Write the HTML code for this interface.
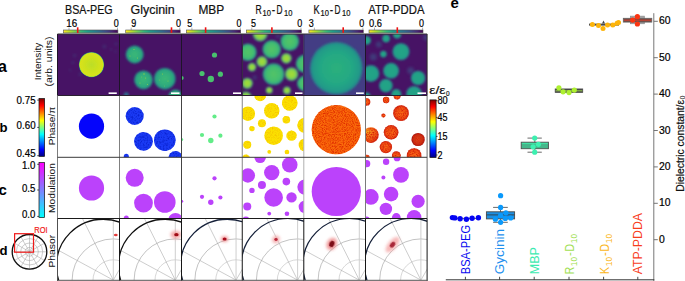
<!DOCTYPE html>
<html><head><meta charset="utf-8"><title>figure</title>
<style>
html,body{margin:0;padding:0;background:#fff;width:685px;height:281px;overflow:hidden}
svg{display:block}
text{font-family:"Liberation Sans", sans-serif}
text.s{stroke-width:0.22px}
</style></head><body>
<svg width="685" height="281" viewBox="0 0 685 281" font-family="&quot;Liberation Sans&quot;, sans-serif">
<rect x="0" y="0" width="685" height="281" fill="#fff"/>
<defs>
<linearGradient id="vir" x1="1" y1="0" x2="0" y2="0">
<stop offset="0" stop-color="#440154"/>
<stop offset="0.11" stop-color="#482878"/>
<stop offset="0.22" stop-color="#3e4a89"/>
<stop offset="0.33" stop-color="#31688e"/>
<stop offset="0.44" stop-color="#26828e"/>
<stop offset="0.56" stop-color="#1f9e89"/>
<stop offset="0.67" stop-color="#35b779"/>
<stop offset="0.78" stop-color="#6ece58"/>
<stop offset="0.89" stop-color="#b5de2b"/>
<stop offset="1" stop-color="#fde725"/>
</linearGradient>
<linearGradient id="jet" x1="0" y1="0" x2="0" y2="1">
<stop offset="0" stop-color="#7f0000"/>
<stop offset="0.12" stop-color="#ff0000"/>
<stop offset="0.38" stop-color="#ffff00"/>
<stop offset="0.5" stop-color="#80ff80"/>
<stop offset="0.62" stop-color="#00ffff"/>
<stop offset="0.88" stop-color="#0000ff"/>
<stop offset="1" stop-color="#00007f"/>
</linearGradient>
<linearGradient id="cool" x1="0" y1="0" x2="0" y2="1"><stop offset="0" stop-color="#ff00ff"/><stop offset="1" stop-color="#00ffff"/></linearGradient>
<radialGradient id="gY"><stop offset="0" stop-color="#bcde27"/><stop offset="0.55" stop-color="#cde11d"/><stop offset="0.9" stop-color="#d8e219"/><stop offset="0.95" stop-color="#9cd83a"/><stop offset="1" stop-color="#2a7f8e"/></radialGradient>
<radialGradient id="gG"><stop offset="0" stop-color="#3cb977"/><stop offset="0.6" stop-color="#30ad7c"/><stop offset="0.88" stop-color="#27a082"/><stop offset="1" stop-color="#23858d"/></radialGradient>
<radialGradient id="gR"><stop offset="0" stop-color="#55c466"/><stop offset="0.7" stop-color="#40bd72"/><stop offset="1" stop-color="#2a8f8c"/></radialGradient>
<radialGradient id="gRb"><stop offset="0" stop-color="#a8db35"/><stop offset="0.6" stop-color="#8ad645"/><stop offset="1" stop-color="#3a9a86"/></radialGradient>
<radialGradient id="gK"><stop offset="0" stop-color="#2bb07c"/><stop offset="0.6" stop-color="#24a884"/><stop offset="0.88" stop-color="#229a88"/><stop offset="1" stop-color="#28808d"/></radialGradient>
<radialGradient id="gA"><stop offset="0" stop-color="#24a586"/><stop offset="0.8" stop-color="#21a087"/><stop offset="1" stop-color="#2a788e"/></radialGradient>
<radialGradient id="gAr"><stop offset="0" stop-color="#fa6e14"/><stop offset="0.7" stop-color="#f25212"/><stop offset="1" stop-color="#cc2410"/></radialGradient>
<radialGradient id="gAd"><stop offset="0" stop-color="#e04818"/><stop offset="0.7" stop-color="#c83014"/><stop offset="1" stop-color="#98100e"/></radialGradient>
<radialGradient id="gAy" cx="0.3" cy="0.3" r="0.75"><stop offset="0" stop-color="#f8c020"/><stop offset="0.35" stop-color="#f47818"/><stop offset="0.8" stop-color="#ee5012"/><stop offset="1" stop-color="#cc2410"/></radialGradient>
<filter id="bl1" x="-20%" y="-20%" width="140%" height="140%"><feGaussianBlur stdDeviation="0.7"/></filter>
<filter id="bl2" x="-50%" y="-50%" width="200%" height="200%"><feGaussianBlur stdDeviation="1.4"/></filter>
<filter id="bl3" x="-50%" y="-50%" width="200%" height="200%"><feGaussianBlur stdDeviation="2.2"/></filter>
<filter id="nzK" filterUnits="userSpaceOnUse" x="0" y="0" width="685" height="281" color-interpolation-filters="sRGB"><feTurbulence type="fractalNoise" baseFrequency="0.9" numOctaves="2" seed="4" result="t"/><feColorMatrix in="t" type="matrix" values="0 0 0 0 0.88  0 0 0 0 0.18  0 0 0 0 0  2.6 0 0 0 -1" result="c"/><feComposite in="c" in2="SourceAlpha" operator="in" result="m"/><feMerge><feMergeNode in="SourceGraphic"/><feMergeNode in="m"/></feMerge></filter>
<filter id="nzA" filterUnits="userSpaceOnUse" x="0" y="0" width="685" height="281" color-interpolation-filters="sRGB"><feTurbulence type="fractalNoise" baseFrequency="0.9" numOctaves="2" seed="7" result="t"/><feColorMatrix in="t" type="matrix" values="0 0 0 0 0.84  0 0 0 0 0.14  0 0 0 0 0.04  2.6 0 0 0 -1" result="c"/><feComposite in="c" in2="SourceAlpha" operator="in" result="m"/><feMerge><feMergeNode in="SourceGraphic"/><feMergeNode in="m"/></feMerge></filter>
<filter id="nzG" filterUnits="userSpaceOnUse" x="0" y="0" width="685" height="281" color-interpolation-filters="sRGB"><feTurbulence type="fractalNoise" baseFrequency="0.6" numOctaves="2" seed="9" result="t"/><feColorMatrix in="t" type="matrix" values="0 0 0 0 0.03  0 0 0 0 0.12  0 0 0 0 0.8  2.4 0 0 0 -1.05" result="c"/><feComposite in="c" in2="SourceAlpha" operator="in" result="m"/><feMerge><feMergeNode in="SourceGraphic"/><feMergeNode in="m"/></feMerge></filter>
<filter id="nzY" filterUnits="userSpaceOnUse" x="0" y="0" width="685" height="281" color-interpolation-filters="sRGB"><feTurbulence type="fractalNoise" baseFrequency="0.8" numOctaves="2" seed="11" result="t"/><feColorMatrix in="t" type="matrix" values="0 0 0 0 0.96  0 0 0 0 0.76  0 0 0 0 0  2.4 0 0 0 -1.05" result="c"/><feComposite in="c" in2="SourceAlpha" operator="in" result="m"/><feMerge><feMergeNode in="SourceGraphic"/><feMergeNode in="m"/></feMerge></filter>
<filter id="nzLa" filterUnits="userSpaceOnUse" x="0" y="0" width="685" height="281" color-interpolation-filters="sRGB"><feTurbulence type="fractalNoise" baseFrequency="0.45" numOctaves="2" seed="13" result="t"/><feGaussianBlur in="t" stdDeviation="0.5" result="tb"/><feColorMatrix in="tb" type="matrix" values="0 0 0 0 0.62  0 0 0 0 0.84  0 0 0 0 0.3  3 0 0 0 -1.55" result="c"/><feComposite in="c" in2="SourceAlpha" operator="in" result="m"/><feMerge><feMergeNode in="SourceGraphic"/><feMergeNode in="m"/></feMerge></filter>
<filter id="bl10" x="-20%" y="-20%" width="140%" height="140%"><feGaussianBlur stdDeviation="1.0"/></filter>
<filter id="bl05"><feGaussianBlur stdDeviation="0.45"/></filter>
<clipPath id="cp00"><rect x="57.5" y="34" width="62" height="61.5"/></clipPath>
<clipPath id="cp01"><rect x="57.5" y="95.5" width="62" height="61.8"/></clipPath>
<clipPath id="cp02"><rect x="57.5" y="157.3" width="62" height="61.2"/></clipPath>
<clipPath id="cp03"><rect x="57.5" y="218.5" width="62" height="61.8"/></clipPath>
<clipPath id="cp10"><rect x="119.5" y="34" width="62" height="61.5"/></clipPath>
<clipPath id="cp11"><rect x="119.5" y="95.5" width="62" height="61.8"/></clipPath>
<clipPath id="cp12"><rect x="119.5" y="157.3" width="62" height="61.2"/></clipPath>
<clipPath id="cp13"><rect x="119.5" y="218.5" width="62" height="61.8"/></clipPath>
<clipPath id="cp20"><rect x="181.5" y="34" width="60.75" height="61.5"/></clipPath>
<clipPath id="cp21"><rect x="181.5" y="95.5" width="60.75" height="61.8"/></clipPath>
<clipPath id="cp22"><rect x="181.5" y="157.3" width="60.75" height="61.2"/></clipPath>
<clipPath id="cp23"><rect x="181.5" y="218.5" width="60.75" height="61.8"/></clipPath>
<clipPath id="cp30"><rect x="242.25" y="34" width="61.55" height="61.5"/></clipPath>
<clipPath id="cp31"><rect x="242.25" y="95.5" width="61.55" height="61.8"/></clipPath>
<clipPath id="cp32"><rect x="242.25" y="157.3" width="61.55" height="61.2"/></clipPath>
<clipPath id="cp33"><rect x="242.25" y="218.5" width="61.55" height="61.8"/></clipPath>
<clipPath id="cp40"><rect x="303.8" y="34" width="61.7" height="61.5"/></clipPath>
<clipPath id="cp41"><rect x="303.8" y="95.5" width="61.7" height="61.8"/></clipPath>
<clipPath id="cp42"><rect x="303.8" y="157.3" width="61.7" height="61.2"/></clipPath>
<clipPath id="cp43"><rect x="303.8" y="218.5" width="61.7" height="61.8"/></clipPath>
<clipPath id="cp50"><rect x="365.5" y="34" width="61.6" height="61.5"/></clipPath>
<clipPath id="cp51"><rect x="365.5" y="95.5" width="61.6" height="61.8"/></clipPath>
<clipPath id="cp52"><rect x="365.5" y="157.3" width="61.6" height="61.2"/></clipPath>
<clipPath id="cp53"><rect x="365.5" y="218.5" width="61.6" height="61.8"/></clipPath>
</defs>
<text x="65.1" y="13.65" font-size="12" fill="#111" text-anchor="start" font-weight="normal" textLength="47.5" lengthAdjust="spacingAndGlyphs" stroke="#111" stroke-width="0.2">BSA-PEG</text>
<text x="130.5" y="13.65" font-size="12" fill="#111" text-anchor="start" font-weight="normal" textLength="44.3" lengthAdjust="spacingAndGlyphs" stroke="#111" stroke-width="0.2">Glycinin</text>
<text x="198.4" y="13.65" font-size="12" fill="#111" text-anchor="start" font-weight="normal" textLength="25.8" lengthAdjust="spacingAndGlyphs" stroke="#111" stroke-width="0.2">MBP</text>
<text x="255.6" y="13.65" font-size="12" fill="#111" text-anchor="start" font-weight="normal" textLength="6.2" lengthAdjust="spacingAndGlyphs" stroke="#111" stroke-width="0.2">R</text><text x="262.5" y="16.25" font-size="9" fill="#111" text-anchor="start" font-weight="normal" textLength="8.4" lengthAdjust="spacingAndGlyphs" stroke="#111" stroke-width="0.2">10</text><text x="271.8" y="13.65" font-size="12" fill="#111" text-anchor="start" font-weight="normal" textLength="3.4" lengthAdjust="spacingAndGlyphs" stroke="#111" stroke-width="0.2">-</text><text x="276.4" y="13.65" font-size="12" fill="#111" text-anchor="start" font-weight="normal" textLength="6" lengthAdjust="spacingAndGlyphs" stroke="#111" stroke-width="0.2">D</text><text x="284.1" y="16.25" font-size="9" fill="#111" text-anchor="start" font-weight="normal" textLength="8.4" lengthAdjust="spacingAndGlyphs" stroke="#111" stroke-width="0.2">10</text>
<text x="313.6" y="13.65" font-size="12" fill="#111" text-anchor="start" font-weight="normal" textLength="6.2" lengthAdjust="spacingAndGlyphs" stroke="#111" stroke-width="0.2">K</text><text x="320.5" y="16.25" font-size="9" fill="#111" text-anchor="start" font-weight="normal" textLength="8.4" lengthAdjust="spacingAndGlyphs" stroke="#111" stroke-width="0.2">10</text><text x="329.8" y="13.65" font-size="12" fill="#111" text-anchor="start" font-weight="normal" textLength="3.4" lengthAdjust="spacingAndGlyphs" stroke="#111" stroke-width="0.2">-</text><text x="334.4" y="13.65" font-size="12" fill="#111" text-anchor="start" font-weight="normal" textLength="6" lengthAdjust="spacingAndGlyphs" stroke="#111" stroke-width="0.2">D</text><text x="342.1" y="16.25" font-size="9" fill="#111" text-anchor="start" font-weight="normal" textLength="8.4" lengthAdjust="spacingAndGlyphs" stroke="#111" stroke-width="0.2">10</text>
<text x="368.2" y="13.65" font-size="12" fill="#111" text-anchor="start" font-weight="normal" textLength="56.3" lengthAdjust="spacingAndGlyphs" stroke="#111" stroke-width="0.2">ATP-PDDA</text>
<rect x="63.5" y="30" width="54.4" height="2.9" fill="url(#vir)" stroke="#555" stroke-width="0.6"/>
<rect x="76.9" y="27.3" width="1.6" height="5.6" fill="#ee1111"/>
<text x="66.2" y="27.2" font-size="10" fill="#000" text-anchor="start" font-weight="normal" textLength="10.9" lengthAdjust="spacingAndGlyphs" stroke="#000" stroke-width="0.2">16</text>
<text x="118.8" y="27.2" font-size="10" fill="#000" text-anchor="end" font-weight="normal" textLength="5" lengthAdjust="spacingAndGlyphs" stroke="#000" stroke-width="0.2">0</text>
<line x1="69" y1="27.6" x2="69" y2="30" stroke="#666" stroke-width="0.5"/>
<line x1="117.5" y1="27.6" x2="117.5" y2="30" stroke="#666" stroke-width="0.5"/>
<rect x="125.7" y="30" width="54.5" height="2.9" fill="url(#vir)" stroke="#555" stroke-width="0.6"/>
<rect x="170.7" y="27.3" width="1.6" height="5.6" fill="#ee1111"/>
<text x="131.2" y="27.2" font-size="10" fill="#000" text-anchor="start" font-weight="normal" textLength="5" lengthAdjust="spacingAndGlyphs" stroke="#000" stroke-width="0.2">9</text>
<text x="181.1" y="27.2" font-size="10" fill="#000" text-anchor="end" font-weight="normal" textLength="5" lengthAdjust="spacingAndGlyphs" stroke="#000" stroke-width="0.2">0</text>
<line x1="131.2" y1="27.6" x2="131.2" y2="30" stroke="#666" stroke-width="0.5"/>
<line x1="179.8" y1="27.6" x2="179.8" y2="30" stroke="#666" stroke-width="0.5"/>
<rect x="186.4" y="30" width="54.3" height="2.9" fill="url(#vir)" stroke="#555" stroke-width="0.6"/>
<rect x="204.8" y="27.3" width="1.6" height="5.6" fill="#ee1111"/>
<text x="187.3" y="27.2" font-size="10" fill="#000" text-anchor="start" font-weight="normal" textLength="5" lengthAdjust="spacingAndGlyphs" stroke="#000" stroke-width="0.2">5</text>
<text x="241.6" y="27.2" font-size="10" fill="#000" text-anchor="end" font-weight="normal" textLength="5" lengthAdjust="spacingAndGlyphs" stroke="#000" stroke-width="0.2">0</text>
<line x1="191.9" y1="27.6" x2="191.9" y2="30" stroke="#666" stroke-width="0.5"/>
<line x1="240.3" y1="27.6" x2="240.3" y2="30" stroke="#666" stroke-width="0.5"/>
<rect x="246.3" y="30" width="55.1" height="2.9" fill="url(#vir)" stroke="#555" stroke-width="0.6"/>
<rect x="271.1" y="27.3" width="1.6" height="5.6" fill="#ee1111"/>
<text x="251" y="27.2" font-size="10" fill="#000" text-anchor="start" font-weight="normal" textLength="5" lengthAdjust="spacingAndGlyphs" stroke="#000" stroke-width="0.2">5</text>
<text x="302.3" y="27.2" font-size="10" fill="#000" text-anchor="end" font-weight="normal" textLength="5" lengthAdjust="spacingAndGlyphs" stroke="#000" stroke-width="0.2">0</text>
<line x1="251.8" y1="27.6" x2="251.8" y2="30" stroke="#666" stroke-width="0.5"/>
<line x1="301" y1="27.6" x2="301" y2="30" stroke="#666" stroke-width="0.5"/>
<rect x="308.9" y="30" width="54.4" height="2.9" fill="url(#vir)" stroke="#555" stroke-width="0.6"/>
<rect x="342.4" y="27.3" width="1.6" height="5.6" fill="#ee1111"/>
<text x="308.8" y="27.2" font-size="10" fill="#000" text-anchor="start" font-weight="normal" textLength="5" lengthAdjust="spacingAndGlyphs" stroke="#000" stroke-width="0.2">3</text>
<text x="364.2" y="27.2" font-size="10" fill="#000" text-anchor="end" font-weight="normal" textLength="5" lengthAdjust="spacingAndGlyphs" stroke="#000" stroke-width="0.2">0</text>
<line x1="314.4" y1="27.6" x2="314.4" y2="30" stroke="#666" stroke-width="0.5"/>
<line x1="362.9" y1="27.6" x2="362.9" y2="30" stroke="#666" stroke-width="0.5"/>
<rect x="369" y="30" width="54" height="2.9" fill="url(#vir)" stroke="#555" stroke-width="0.6"/>
<rect x="396.5" y="27.3" width="1.6" height="5.6" fill="#ee1111"/>
<text x="369" y="27.2" font-size="10" fill="#000" text-anchor="start" font-weight="normal" textLength="13" lengthAdjust="spacingAndGlyphs" stroke="#000" stroke-width="0.2">0.6</text>
<text x="423.9" y="27.2" font-size="10" fill="#000" text-anchor="end" font-weight="normal" textLength="5" lengthAdjust="spacingAndGlyphs" stroke="#000" stroke-width="0.2">0</text>
<line x1="374.5" y1="27.6" x2="374.5" y2="30" stroke="#666" stroke-width="0.5"/>
<line x1="422.6" y1="27.6" x2="422.6" y2="30" stroke="#666" stroke-width="0.5"/>
<g clip-path="url(#cp00)">
<rect x="57.5" y="34" width="62" height="61.5" fill="#471365"/>
<circle cx="104.4" cy="46.6" r="1.5" fill="#3b5a8c" opacity="0.55" filter="url(#bl2)"/>
<circle cx="74.6" cy="55.6" r="1.3" fill="#3b5a8c" opacity="0.55" filter="url(#bl2)"/>
<circle cx="72.9" cy="62.6" r="1.2" fill="#3b5a8c" opacity="0.55" filter="url(#bl2)"/>
<circle cx="80.1" cy="74.3" r="1.3" fill="#3b5a8c" opacity="0.55" filter="url(#bl2)"/>
<circle cx="111" cy="49.4" r="1" fill="#3b5a8c" opacity="0.55" filter="url(#bl2)"/>
<circle cx="116" cy="43.9" r="1.2" fill="#3b5a8c" opacity="0.55" filter="url(#bl2)"/>
<circle cx="115.4" cy="51.6" r="1" fill="#3b5a8c" opacity="0.55" filter="url(#bl2)"/>
<circle cx="70.2" cy="70.3" r="1" fill="#3b5a8c" opacity="0.55" filter="url(#bl2)"/>
<circle cx="91.5" cy="64.7" r="12.6" fill="url(#gY)" filter="url(#bl05)"/>
<rect x="108.6" y="92.4" width="8.2" height="1.6" fill="#ffffff"/>
</g>
<g clip-path="url(#cp10)">
<rect x="119.5" y="34" width="62" height="61.5" fill="#471365"/>
<circle cx="134.7" cy="54.5" r="9" fill="url(#gG)" filter="url(#bl10)"/>
<circle cx="143.5" cy="79.8" r="9.4" fill="url(#gG)" filter="url(#bl10)"/>
<circle cx="164.8" cy="78.7" r="10.8" fill="url(#gG)" filter="url(#bl10)"/>
<circle cx="175.5" cy="96.8" r="7.2" fill="url(#gG)" filter="url(#bl10)"/>
<circle cx="126.3" cy="94.8" r="2.5" fill="#2d6f8e" filter="url(#bl10)"/>
<circle cx="134" cy="49.5" r="0.6" fill="#a6d83c" opacity="0.8" filter="url(#bl05)"/>
<circle cx="130" cy="56" r="0.5" fill="#a6d83c" opacity="0.8" filter="url(#bl05)"/>
<circle cx="137.5" cy="58" r="0.5" fill="#a6d83c" opacity="0.8" filter="url(#bl05)"/>
<circle cx="144" cy="74" r="0.7" fill="#a6d83c" opacity="0.8" filter="url(#bl05)"/>
<circle cx="145.5" cy="78" r="0.5" fill="#a6d83c" opacity="0.8" filter="url(#bl05)"/>
<circle cx="140" cy="83" r="0.5" fill="#a6d83c" opacity="0.8" filter="url(#bl05)"/>
<circle cx="147.5" cy="84.5" r="0.5" fill="#a6d83c" opacity="0.8" filter="url(#bl05)"/>
<circle cx="141.5" cy="77" r="0.4" fill="#a6d83c" opacity="0.8" filter="url(#bl05)"/>
<circle cx="162.5" cy="74" r="0.5" fill="#a6d83c" opacity="0.8" filter="url(#bl05)"/>
<circle cx="168" cy="81" r="0.5" fill="#a6d83c" opacity="0.8" filter="url(#bl05)"/>
<circle cx="164.5" cy="86" r="0.4" fill="#a6d83c" opacity="0.8" filter="url(#bl05)"/>
<circle cx="159.5" cy="80" r="0.4" fill="#a6d83c" opacity="0.8" filter="url(#bl05)"/>
<rect x="171" y="92.4" width="8.5" height="1.6" fill="#ffffff"/>
</g>
<g clip-path="url(#cp20)">
<rect x="181.5" y="34" width="60.75" height="61.5" fill="#471365"/>
<circle cx="181.7" cy="78" r="2" fill="#48c16e" filter="url(#bl1)"/>
<circle cx="214.5" cy="55" r="2.6" fill="#48c16e" filter="url(#bl1)"/>
<circle cx="202" cy="73.5" r="2.6" fill="#48c16e" filter="url(#bl1)"/>
<circle cx="210.8" cy="79" r="3.2" fill="#48c16e" filter="url(#bl1)"/>
<circle cx="220.4" cy="74.2" r="2.6" fill="#48c16e" filter="url(#bl1)"/>
<rect x="233" y="92.4" width="8" height="1.6" fill="#ffffff"/>
</g>
<g clip-path="url(#cp30)">
<rect x="242.25" y="34" width="61.55" height="61.5" fill="#471365"/>
<circle cx="277.95" cy="36.3" r="2" fill="#3b5a8c" opacity="0.55" filter="url(#bl2)"/>
<circle cx="254.75" cy="77.5" r="2" fill="#3b5a8c" opacity="0.55" filter="url(#bl2)"/>
<circle cx="260.15" cy="34" r="7.4" fill="url(#gRb)" filter="url(#bl10)"/>
<circle cx="289.75" cy="41.5" r="9.4" fill="url(#gR)" filter="url(#bl10)"/>
<circle cx="247.85" cy="52.2" r="8.8" fill="url(#gR)" filter="url(#bl10)"/>
<circle cx="271.75" cy="49.3" r="9.3" fill="url(#gR)" filter="url(#bl10)"/>
<circle cx="261.95" cy="61.7" r="5.6" fill="url(#gRb)" filter="url(#bl10)"/>
<circle cx="286.35" cy="58.3" r="5.4" fill="url(#gRb)" filter="url(#bl10)"/>
<circle cx="304.95" cy="63.8" r="9.2" fill="url(#gR)" filter="url(#bl10)"/>
<circle cx="251.95" cy="67.1" r="4.3" fill="url(#gRb)" filter="url(#bl10)"/>
<circle cx="273.65" cy="74.2" r="10.9" fill="url(#gR)" filter="url(#bl10)"/>
<circle cx="291.55" cy="74.1" r="6.8" fill="url(#gRb)" filter="url(#bl10)"/>
<circle cx="247.25" cy="83.3" r="5.6" fill="url(#gRb)" filter="url(#bl10)"/>
<circle cx="304.85" cy="83.5" r="7.8" fill="url(#gR)" filter="url(#bl10)"/>
<circle cx="269.25" cy="90.3" r="3.5" fill="url(#gRb)" filter="url(#bl10)"/>
<circle cx="286.95" cy="90.5" r="3.9" fill="url(#gRb)" filter="url(#bl10)"/>
<circle cx="245.95" cy="97.3" r="5.8" fill="url(#gRb)" filter="url(#bl10)"/>
<rect x="295" y="92.4" width="7.5" height="1.6" fill="#ffffff"/>
</g>
<g clip-path="url(#cp40)">
<rect x="303.8" y="34" width="61.7" height="61.5" fill="#433d84"/>
<circle cx="336.3" cy="68.2" r="26.3" fill="url(#gK)" filter="url(#bl10)"/>
<rect x="356" y="92.4" width="7.8" height="1.6" fill="#ffffff"/>
</g>
<g clip-path="url(#cp50)">
<rect x="365.5" y="34" width="61.6" height="61.5" fill="#471365"/>
<circle cx="378.8" cy="44.6" r="3" fill="#3b5a8c" opacity="0.55" filter="url(#bl2)"/>
<circle cx="373.3" cy="57" r="3.6" fill="#3b5a8c" opacity="0.55" filter="url(#bl2)"/>
<circle cx="410.7" cy="70.6" r="3.4" fill="#3b5a8c" opacity="0.55" filter="url(#bl2)"/>
<circle cx="426.1" cy="37.5" r="3" fill="#3b5a8c" opacity="0.55" filter="url(#bl2)"/>
<circle cx="366.7" cy="40.4" r="4.3" fill="url(#gA)" filter="url(#bl10)"/>
<circle cx="386.1" cy="38.5" r="3.9" fill="url(#gA)" filter="url(#bl10)"/>
<circle cx="397.1" cy="34.6" r="4.1" fill="url(#gA)" filter="url(#bl10)"/>
<circle cx="401" cy="51.6" r="8.6" fill="url(#gA)" filter="url(#bl10)"/>
<circle cx="383.4" cy="54.1" r="3.4" fill="url(#gA)" filter="url(#bl10)"/>
<circle cx="370.9" cy="73.6" r="8.5" fill="url(#gA)" filter="url(#bl10)"/>
<circle cx="391.1" cy="70.8" r="8" fill="url(#gA)" filter="url(#bl10)"/>
<circle cx="418.1" cy="78" r="7.3" fill="url(#gA)" filter="url(#bl10)"/>
<circle cx="385.9" cy="85.6" r="6.9" fill="url(#gA)" filter="url(#bl10)"/>
<circle cx="396.3" cy="94.2" r="5.1" fill="url(#gA)" filter="url(#bl10)"/>
<circle cx="414.1" cy="94" r="8" fill="url(#gA)" filter="url(#bl10)"/>
<circle cx="366.7" cy="96.2" r="3.7" fill="url(#gA)" filter="url(#bl10)"/>
<rect x="417.5" y="92.4" width="8.5" height="1.6" fill="#ffffff"/>
</g>
<g clip-path="url(#cp01)">
<circle cx="91.5" cy="126.2" r="12.6" fill="#0505fb"/>
</g>
<g clip-path="url(#cp11)">
<g filter="url(#nzG)">
<circle cx="134.7" cy="116" r="9" fill="#1a3af4"/>
<circle cx="143.5" cy="141.3" r="9.4" fill="#1a3af4"/>
<circle cx="164.8" cy="140.2" r="10.8" fill="#1a3af4"/>
<circle cx="175.5" cy="158.3" r="7.2" fill="#1a3af4"/>
<circle cx="126.3" cy="156.3" r="2.5" fill="#1a3af4"/>
</g>
</g>
<g clip-path="url(#cp21)">
<circle cx="181.7" cy="139.5" r="1.5" fill="#62ec88"/>
<circle cx="214.5" cy="116.5" r="2.1" fill="#62ec88"/>
<circle cx="202" cy="135" r="2.1" fill="#62ec88"/>
<circle cx="210.8" cy="140.5" r="2.7" fill="#62ec88"/>
<circle cx="220.4" cy="135.7" r="2.1" fill="#62ec88"/>
</g>
<g clip-path="url(#cp31)">
<g filter="url(#nzY)">
<circle cx="260.15" cy="95.5" r="5.8" fill="#fbe000"/>
<circle cx="289.75" cy="103" r="7.8" fill="#fbe000"/>
<circle cx="247.85" cy="113.7" r="7.2" fill="#fbe000"/>
<circle cx="271.75" cy="110.8" r="7.7" fill="#fbe000"/>
<circle cx="261.95" cy="123.2" r="4" fill="#fbe000"/>
<circle cx="286.35" cy="119.8" r="3.8" fill="#fbe000"/>
<circle cx="304.95" cy="125.3" r="7.6" fill="#fbe000"/>
<circle cx="251.95" cy="128.6" r="2.7" fill="#fbe000"/>
<circle cx="273.65" cy="135.7" r="9.3" fill="#fbe000"/>
<circle cx="291.55" cy="135.6" r="5.2" fill="#fbe000"/>
<circle cx="247.25" cy="144.8" r="4" fill="#fbe000"/>
<circle cx="304.85" cy="145" r="6.2" fill="#fbe000"/>
<circle cx="269.25" cy="151.8" r="1.9" fill="#fbe000"/>
<circle cx="286.95" cy="152" r="2.3" fill="#fbe000"/>
<circle cx="245.95" cy="158.8" r="4.2" fill="#fbe000"/>
</g>
</g>
<g clip-path="url(#cp41)">
<g filter="url(#nzK)">
<circle cx="336.3" cy="129.7" r="24.6" fill="#fa6a0a"/>
</g>
</g>
<g clip-path="url(#cp51)">
<g filter="url(#nzA)">
<circle cx="366.7" cy="101.9" r="3.6" fill="url(#gAr)"/>
<circle cx="386.1" cy="100" r="3.2" fill="url(#gAr)"/>
<circle cx="397.1" cy="96.1" r="3.4" fill="url(#gAr)"/>
<circle cx="401" cy="113.1" r="7.9" fill="url(#gAr)"/>
<circle cx="383.4" cy="115.6" r="2" fill="url(#gAr)"/>
<circle cx="370.9" cy="135.1" r="7.8" fill="url(#gAy)"/>
<circle cx="391.1" cy="132.3" r="7.3" fill="url(#gAr)"/>
<circle cx="418.1" cy="139.5" r="6.6" fill="url(#gAd)"/>
<circle cx="385.9" cy="147.1" r="6.2" fill="url(#gAr)"/>
<circle cx="396.3" cy="155.7" r="4.4" fill="url(#gAr)"/>
<circle cx="414.1" cy="155.5" r="7.3" fill="url(#gAr)"/>
<circle cx="366.7" cy="157.7" r="3" fill="url(#gAr)"/>
</g>
</g>
<g clip-path="url(#cp02)">
<circle cx="91.5" cy="188" r="12.6" fill="#bb42fb"/>
</g>
<g clip-path="url(#cp12)">
<circle cx="134.7" cy="177.8" r="9" fill="#bb42fb"/>
<circle cx="143.5" cy="203.1" r="9.4" fill="#bb42fb"/>
<circle cx="164.8" cy="202" r="10.8" fill="#bb42fb"/>
<circle cx="175.5" cy="220.1" r="7.2" fill="#bb42fb"/>
<circle cx="126.3" cy="218.1" r="2.5" fill="#bb42fb"/>
</g>
<g clip-path="url(#cp22)">
<circle cx="181.7" cy="201.3" r="1.5" fill="#bb42fb"/>
<circle cx="214.5" cy="178.3" r="2.1" fill="#bb42fb"/>
<circle cx="202" cy="196.8" r="2.1" fill="#bb42fb"/>
<circle cx="210.8" cy="202.3" r="2.7" fill="#bb42fb"/>
<circle cx="220.4" cy="197.5" r="2.1" fill="#bb42fb"/>
</g>
<g clip-path="url(#cp32)">
<circle cx="260.15" cy="157.3" r="5.8" fill="#bb42fb"/>
<circle cx="289.75" cy="164.8" r="7.8" fill="#bb42fb"/>
<circle cx="247.85" cy="175.5" r="7.2" fill="#bb42fb"/>
<circle cx="271.75" cy="172.6" r="7.7" fill="#bb42fb"/>
<circle cx="261.95" cy="185" r="4" fill="#bb42fb"/>
<circle cx="286.35" cy="181.6" r="3.8" fill="#bb42fb"/>
<circle cx="304.95" cy="187.1" r="7.6" fill="#bb42fb"/>
<circle cx="251.95" cy="190.4" r="2.7" fill="#bb42fb"/>
<circle cx="273.65" cy="197.5" r="9.3" fill="#bb42fb"/>
<circle cx="291.55" cy="197.4" r="5.2" fill="#bb42fb"/>
<circle cx="247.25" cy="206.6" r="4" fill="#bb42fb"/>
<circle cx="304.85" cy="206.8" r="6.2" fill="#bb42fb"/>
<circle cx="269.25" cy="213.6" r="1.9" fill="#bb42fb"/>
<circle cx="286.95" cy="213.8" r="2.3" fill="#bb42fb"/>
<circle cx="245.95" cy="220.6" r="4.2" fill="#bb42fb"/>
</g>
<g clip-path="url(#cp42)">
<circle cx="336.3" cy="191.5" r="24.6" fill="#bb42fb"/>
</g>
<g clip-path="url(#cp52)">
<circle cx="366.7" cy="163.7" r="3.6" fill="#bb42fb"/>
<circle cx="386.1" cy="161.8" r="3.2" fill="#bb42fb"/>
<circle cx="397.1" cy="157.9" r="3.4" fill="#bb42fb"/>
<circle cx="401" cy="174.9" r="7.9" fill="#bb42fb"/>
<circle cx="383.4" cy="177.4" r="2" fill="#bb42fb"/>
<circle cx="370.9" cy="196.9" r="7.8" fill="#bb42fb"/>
<circle cx="391.1" cy="194.1" r="7.3" fill="#bb42fb"/>
<circle cx="418.1" cy="201.3" r="6.6" fill="#bb42fb"/>
<circle cx="385.9" cy="208.9" r="6.2" fill="#bb42fb"/>
<circle cx="396.3" cy="217.5" r="4.4" fill="#bb42fb"/>
<circle cx="414.1" cy="217.3" r="7.3" fill="#bb42fb"/>
<circle cx="366.7" cy="219.5" r="3" fill="#bb42fb"/>
</g>
<g clip-path="url(#cp03)">
<circle cx="113.3" cy="280.1" r="20.3" fill="none" stroke="#bdbdbd" stroke-width="0.6"/>
<circle cx="113.3" cy="280.1" r="41.2" fill="none" stroke="#9a9a9a" stroke-width="0.6"/>
<line x1="113.3" y1="280.1" x2="34.21" y2="237.16" stroke="#a4a4a4" stroke-width="0.55"/>
<line x1="113.3" y1="280.1" x2="73" y2="199.63" stroke="#a4a4a4" stroke-width="0.55"/>
<line x1="113.3" y1="280.1" x2="158.3" y2="202.16" stroke="#a4a4a4" stroke-width="0.55"/>
<line x1="113.3" y1="280.1" x2="113.3" y2="218" stroke="#c8c8c8" stroke-width="0.9"/>
<circle cx="103.1" cy="265.9" r="46.65" fill="none" stroke="#111" stroke-width="1.3"/>
<ellipse cx="115.8" cy="235" rx="1.9" ry="1.3" fill="#e23a3a"/>
</g>
<g clip-path="url(#cp13)">
<circle cx="175.3" cy="280.1" r="20.3" fill="none" stroke="#bdbdbd" stroke-width="0.6"/>
<circle cx="175.3" cy="280.1" r="41.2" fill="none" stroke="#9a9a9a" stroke-width="0.6"/>
<line x1="175.3" y1="280.1" x2="96.21" y2="237.16" stroke="#a4a4a4" stroke-width="0.55"/>
<line x1="175.3" y1="280.1" x2="135" y2="199.63" stroke="#a4a4a4" stroke-width="0.55"/>
<line x1="175.3" y1="280.1" x2="220.3" y2="202.16" stroke="#a4a4a4" stroke-width="0.55"/>
<line x1="175.3" y1="280.1" x2="175.3" y2="218" stroke="#c8c8c8" stroke-width="0.9"/>
<circle cx="165.1" cy="265.9" r="46.65" fill="none" stroke="#111" stroke-width="1.3"/>
<ellipse cx="175.9" cy="234.7" rx="5.5" ry="4" fill="#f29a9a" opacity="0.8" filter="url(#bl2)"/>
<ellipse cx="176.4" cy="234.7" rx="2.2" ry="1.6" fill="#a00c18" filter="url(#bl05)"/>
</g>
<g clip-path="url(#cp23)">
<circle cx="236.05" cy="280.1" r="20.3" fill="none" stroke="#bdbdbd" stroke-width="0.6"/>
<circle cx="236.05" cy="280.1" r="41.2" fill="none" stroke="#9a9a9a" stroke-width="0.6"/>
<line x1="236.05" y1="280.1" x2="156.96" y2="237.16" stroke="#a4a4a4" stroke-width="0.55"/>
<line x1="236.05" y1="280.1" x2="195.75" y2="199.63" stroke="#a4a4a4" stroke-width="0.55"/>
<line x1="236.05" y1="280.1" x2="281.05" y2="202.16" stroke="#a4a4a4" stroke-width="0.55"/>
<line x1="236.05" y1="280.1" x2="236.05" y2="218" stroke="#c8c8c8" stroke-width="0.9"/>
<circle cx="227.1" cy="265.9" r="46.65" fill="none" stroke="#16213a" stroke-width="1.3"/>
<ellipse cx="224.6" cy="239" rx="3.8" ry="3" fill="#f08a8a" opacity="0.8" filter="url(#bl2)"/>
<ellipse cx="224.6" cy="239" rx="2" ry="1.5" fill="#a8101e" filter="url(#bl05)"/>
</g>
<g clip-path="url(#cp33)">
<circle cx="297.6" cy="280.1" r="20.3" fill="none" stroke="#bdbdbd" stroke-width="0.6"/>
<circle cx="297.6" cy="280.1" r="41.2" fill="none" stroke="#9a9a9a" stroke-width="0.6"/>
<line x1="297.6" y1="280.1" x2="218.51" y2="237.16" stroke="#a4a4a4" stroke-width="0.55"/>
<line x1="297.6" y1="280.1" x2="257.3" y2="199.63" stroke="#a4a4a4" stroke-width="0.55"/>
<line x1="297.6" y1="280.1" x2="342.6" y2="202.16" stroke="#a4a4a4" stroke-width="0.55"/>
<line x1="297.6" y1="280.1" x2="297.6" y2="218" stroke="#c8c8c8" stroke-width="0.9"/>
<circle cx="287.85" cy="265.1" r="46.65" fill="none" stroke="#16213a" stroke-width="1.3"/>
<ellipse cx="276" cy="239.5" rx="4" ry="3.4" fill="#f2a0a0" opacity="0.8" filter="url(#bl2)" transform="rotate(-50 276 239.5)"/>
<ellipse cx="276" cy="239.5" rx="1.7" ry="1.4" fill="#b8283a" filter="url(#bl05)"/>
</g>
<g clip-path="url(#cp43)">
<circle cx="359.3" cy="280.1" r="20.3" fill="none" stroke="#bdbdbd" stroke-width="0.6"/>
<circle cx="359.3" cy="280.1" r="41.2" fill="none" stroke="#9a9a9a" stroke-width="0.6"/>
<line x1="359.3" y1="280.1" x2="280.21" y2="237.16" stroke="#a4a4a4" stroke-width="0.55"/>
<line x1="359.3" y1="280.1" x2="319" y2="199.63" stroke="#a4a4a4" stroke-width="0.55"/>
<line x1="359.3" y1="280.1" x2="404.3" y2="202.16" stroke="#a4a4a4" stroke-width="0.55"/>
<line x1="359.3" y1="280.1" x2="359.3" y2="218" stroke="#c8c8c8" stroke-width="0.9"/>
<circle cx="349.4" cy="265.1" r="46.65" fill="none" stroke="#16213a" stroke-width="1.3"/>
<ellipse cx="331.8" cy="244" rx="6.5" ry="5" fill="#ee8a8a" opacity="0.85" filter="url(#bl2)" transform="rotate(-60 331.8 244)"/>
<ellipse cx="331.8" cy="244" rx="3.2" ry="2.5" fill="#7c0818" filter="url(#bl05)" transform="rotate(-65 331.8 244)"/>
</g>
<g clip-path="url(#cp53)">
<circle cx="420.9" cy="280.1" r="20.3" fill="none" stroke="#bdbdbd" stroke-width="0.6"/>
<circle cx="420.9" cy="280.1" r="41.2" fill="none" stroke="#9a9a9a" stroke-width="0.6"/>
<line x1="420.9" y1="280.1" x2="341.81" y2="237.16" stroke="#a4a4a4" stroke-width="0.55"/>
<line x1="420.9" y1="280.1" x2="380.6" y2="199.63" stroke="#a4a4a4" stroke-width="0.55"/>
<line x1="420.9" y1="280.1" x2="465.9" y2="202.16" stroke="#a4a4a4" stroke-width="0.55"/>
<line x1="420.9" y1="280.1" x2="420.9" y2="218" stroke="#c8c8c8" stroke-width="0.9"/>
<circle cx="411.1" cy="265.1" r="46.65" fill="none" stroke="#16213a" stroke-width="1.3"/>
<ellipse cx="392.5" cy="244.7" rx="9.5" ry="4.2" fill="#f4a4a4" opacity="0.8" filter="url(#bl2)" transform="rotate(-50 392.5 244.7)"/>
<ellipse cx="392.5" cy="244.7" rx="3.2" ry="2.2" fill="#a82838" filter="url(#bl05)" transform="rotate(-50 392.5 244.7)"/>
</g>
<line x1="57.5" y1="34" x2="57.5" y2="95.5" stroke="#1e1428" stroke-width="1"/>
<line x1="57.5" y1="95.5" x2="57.5" y2="218.5" stroke="#7c7c7c" stroke-width="1"/>
<line x1="57.5" y1="218.5" x2="57.5" y2="281" stroke="#505050" stroke-width="1"/>
<line x1="119.5" y1="34" x2="119.5" y2="95.5" stroke="#1e1428" stroke-width="1"/>
<line x1="119.5" y1="95.5" x2="119.5" y2="218.5" stroke="#808080" stroke-width="1"/>
<line x1="119.5" y1="218.5" x2="119.5" y2="281" stroke="#161616" stroke-width="1"/>
<line x1="181.5" y1="34" x2="181.5" y2="95.5" stroke="#1e1428" stroke-width="1"/>
<line x1="181.5" y1="95.5" x2="181.5" y2="218.5" stroke="#444444" stroke-width="1"/>
<line x1="181.5" y1="218.5" x2="181.5" y2="281" stroke="#161616" stroke-width="1"/>
<line x1="242.25" y1="34" x2="242.25" y2="95.5" stroke="#1e1428" stroke-width="1"/>
<line x1="242.25" y1="95.5" x2="242.25" y2="218.5" stroke="#858585" stroke-width="1"/>
<line x1="242.25" y1="218.5" x2="242.25" y2="281" stroke="#161616" stroke-width="1"/>
<line x1="303.8" y1="34" x2="303.8" y2="95.5" stroke="#2a1f48" stroke-width="1"/>
<line x1="303.8" y1="95.5" x2="303.8" y2="218.5" stroke="#b0b0b0" stroke-width="1"/>
<line x1="303.8" y1="218.5" x2="303.8" y2="281" stroke="#161616" stroke-width="1"/>
<line x1="365.5" y1="34" x2="365.5" y2="95.5" stroke="#1e1428" stroke-width="1"/>
<line x1="365.5" y1="95.5" x2="365.5" y2="218.5" stroke="#7a7a7a" stroke-width="1"/>
<line x1="365.5" y1="218.5" x2="365.5" y2="281" stroke="#161616" stroke-width="1"/>
<line x1="427.1" y1="34" x2="427.1" y2="95.5" stroke="#2a2a2a" stroke-width="1"/>
<line x1="427.1" y1="95.5" x2="427.1" y2="218.5" stroke="#6e6e6e" stroke-width="1"/>
<line x1="427.1" y1="218.5" x2="427.1" y2="281" stroke="#161616" stroke-width="1"/>
<line x1="57.5" y1="34" x2="427.1" y2="34" stroke="#333" stroke-width="1"/>
<line x1="57.5" y1="95.5" x2="427.1" y2="95.5" stroke="#2a2030" stroke-width="1"/>
<line x1="57.5" y1="157.3" x2="427.1" y2="157.3" stroke="#3a3a3a" stroke-width="1"/>
<line x1="57.5" y1="218.5" x2="427.1" y2="218.5" stroke="#1a1a1a" stroke-width="1"/>
<line x1="57.5" y1="280.3" x2="427.1" y2="280.3" stroke="#555555" stroke-width="1"/>
<text x="-2" y="71.9" font-size="16" fill="#000" text-anchor="start" font-weight="bold">a</text>
<text x="-0.6" y="132.3" font-size="13.2" fill="#000" text-anchor="start" font-weight="bold">b</text>
<text x="-1.6" y="194.7" font-size="15" fill="#000" text-anchor="start" font-weight="bold">c</text>
<text x="-0.6" y="255.3" font-size="13.2" fill="#000" text-anchor="start" font-weight="bold">d</text>
<text transform="translate(41.4 80.3) rotate(-90)" x="0" y="0" font-size="9.8" fill="#111" text-anchor="start" textLength="37.6" lengthAdjust="spacingAndGlyphs">Intensity</text>
<text transform="translate(51.6 86.6) rotate(-90)" x="0" y="0" font-size="9.8" fill="#111" text-anchor="start" textLength="50" lengthAdjust="spacingAndGlyphs">(arb. units)</text>
<text transform="translate(55.1 145.3) rotate(-90)" x="0" y="0" font-size="9.8" fill="#111" text-anchor="start" textLength="38.6" lengthAdjust="spacingAndGlyphs">Phase/&#960;</text>
<text transform="translate(55.3 213) rotate(-90)" x="0" y="0" font-size="9.8" fill="#111" text-anchor="start" textLength="50" lengthAdjust="spacingAndGlyphs">Modulation</text>
<text transform="translate(54.8 267.5) rotate(-90)" x="0" y="0" font-size="9.8" fill="#111" text-anchor="start" textLength="32.6" lengthAdjust="spacingAndGlyphs">Phasor</text>
<rect x="39" y="98.5" width="5.6" height="57.9" fill="url(#jet)" stroke="#111" stroke-width="0.7"/>
<line x1="37.2" y1="100.1" x2="39" y2="100.1" stroke="#111" stroke-width="0.7"/>
<text x="35.6" y="104.3" font-size="10" fill="#000" text-anchor="end" font-weight="normal" textLength="19" lengthAdjust="spacingAndGlyphs" stroke="#000" stroke-width="0.2">0.75</text>
<line x1="37.2" y1="127.4" x2="39" y2="127.4" stroke="#111" stroke-width="0.7"/>
<text x="35.6" y="129.4" font-size="10" fill="#000" text-anchor="end" font-weight="normal" textLength="19" lengthAdjust="spacingAndGlyphs" stroke="#000" stroke-width="0.2">0.60</text>
<line x1="37.2" y1="155.7" x2="39" y2="155.7" stroke="#111" stroke-width="0.7"/>
<text x="35.6" y="156.8" font-size="10" fill="#000" text-anchor="end" font-weight="normal" textLength="19" lengthAdjust="spacingAndGlyphs" stroke="#000" stroke-width="0.2">0.45</text>
<rect x="39" y="162.6" width="5.6" height="54.9" fill="url(#cool)" stroke="#111" stroke-width="0.7"/>
<line x1="37.2" y1="164.3" x2="39" y2="164.3" stroke="#111" stroke-width="0.7"/>
<text x="35.4" y="168.6" font-size="10" fill="#000" text-anchor="end" font-weight="normal" textLength="13.4" lengthAdjust="spacingAndGlyphs" stroke="#000" stroke-width="0.2">1.0</text>
<line x1="37.2" y1="190" x2="39" y2="190" stroke="#111" stroke-width="0.7"/>
<text x="35.4" y="192.4" font-size="10" fill="#000" text-anchor="end" font-weight="normal" textLength="13.4" lengthAdjust="spacingAndGlyphs" stroke="#000" stroke-width="0.2">0.5</text>
<line x1="37.2" y1="216.4" x2="39" y2="216.4" stroke="#111" stroke-width="0.7"/>
<text x="35.4" y="217.8" font-size="10" fill="#000" text-anchor="end" font-weight="normal" textLength="13.4" lengthAdjust="spacingAndGlyphs" stroke="#000" stroke-width="0.2">0.0</text>
<g>
<circle cx="29.5" cy="251.8" r="4.4" fill="none" stroke="#9a9a9a" stroke-width="0.5"/>
<circle cx="29.5" cy="251.8" r="8.8" fill="none" stroke="#9a9a9a" stroke-width="0.5"/>
<circle cx="29.5" cy="251.8" r="13.2" fill="none" stroke="#9a9a9a" stroke-width="0.5"/>
<line x1="29.5" y1="251.8" x2="46.5" y2="251.8" stroke="#9a9a9a" stroke-width="0.5"/>
<line x1="29.5" y1="251.8" x2="44.22" y2="260.3" stroke="#9a9a9a" stroke-width="0.5"/>
<line x1="29.5" y1="251.8" x2="38" y2="266.52" stroke="#9a9a9a" stroke-width="0.5"/>
<line x1="29.5" y1="251.8" x2="29.5" y2="268.8" stroke="#9a9a9a" stroke-width="0.5"/>
<line x1="29.5" y1="251.8" x2="21" y2="266.52" stroke="#9a9a9a" stroke-width="0.5"/>
<line x1="29.5" y1="251.8" x2="14.78" y2="260.3" stroke="#9a9a9a" stroke-width="0.5"/>
<line x1="29.5" y1="251.8" x2="12.5" y2="251.8" stroke="#9a9a9a" stroke-width="0.5"/>
<line x1="29.5" y1="251.8" x2="14.78" y2="243.3" stroke="#9a9a9a" stroke-width="0.5"/>
<line x1="29.5" y1="251.8" x2="21" y2="237.08" stroke="#9a9a9a" stroke-width="0.5"/>
<line x1="29.5" y1="251.8" x2="29.5" y2="234.8" stroke="#9a9a9a" stroke-width="0.5"/>
<line x1="29.5" y1="251.8" x2="38" y2="237.08" stroke="#9a9a9a" stroke-width="0.5"/>
<line x1="29.5" y1="251.8" x2="44.22" y2="243.3" stroke="#9a9a9a" stroke-width="0.5"/>
<circle cx="29.5" cy="251.8" r="17.3" fill="none" stroke="#111" stroke-width="1.3"/>
<rect x="14.6" y="233.7" width="18.9" height="18.5" fill="none" stroke="#f01a1a" stroke-width="1.2"/>
<text x="34.3" y="233.1" font-size="8.4" fill="#f01a1a" text-anchor="start" font-weight="normal" textLength="13.3" lengthAdjust="spacingAndGlyphs" stroke="#f01a1a" stroke-width="0.2">ROI</text>
</g>
<rect x="429.9" y="99.9" width="6.2" height="57.6" fill="url(#jet)" stroke="#111" stroke-width="0.7"/>
<line x1="436.1" y1="100.7" x2="437.6" y2="100.7" stroke="#111" stroke-width="0.7"/>
<text x="437.4" y="104.2" font-size="10.2" fill="#000" text-anchor="start" font-weight="normal" textLength="10.3" lengthAdjust="spacingAndGlyphs" stroke="#000" stroke-width="0.2">80</text>
<line x1="436.1" y1="117.4" x2="437.6" y2="117.4" stroke="#111" stroke-width="0.7"/>
<text x="437.4" y="120.9" font-size="10.2" fill="#000" text-anchor="start" font-weight="normal" textLength="10" lengthAdjust="spacingAndGlyphs" stroke="#000" stroke-width="0.2">45</text>
<line x1="436.1" y1="136.4" x2="437.6" y2="136.4" stroke="#111" stroke-width="0.7"/>
<text x="437.4" y="139.9" font-size="10.2" fill="#000" text-anchor="start" font-weight="normal" textLength="10" lengthAdjust="spacingAndGlyphs" stroke="#000" stroke-width="0.2">15</text>
<line x1="436.1" y1="155" x2="437.6" y2="155" stroke="#111" stroke-width="0.7"/>
<text x="437.4" y="158.5" font-size="10.2" fill="#000" text-anchor="start" font-weight="normal" textLength="5" lengthAdjust="spacingAndGlyphs" stroke="#000" stroke-width="0.2">2</text>
<text x="429.3" y="93.9" font-size="11" fill="#111" text-anchor="start" font-weight="normal" textLength="16.2" lengthAdjust="spacingAndGlyphs" stroke="#111" stroke-width="0.2">&#949;/&#949;</text>
<text x="446" y="96" font-size="7.5" fill="#111" text-anchor="start" font-weight="normal" textLength="3.6" lengthAdjust="spacingAndGlyphs" stroke="#111" stroke-width="0.2">0</text>
<text x="450.4" y="7.9" font-size="15" fill="#000" text-anchor="start" font-weight="bold">e</text>
<line x1="653.8" y1="13.2" x2="653.8" y2="281" stroke="#777" stroke-width="1"/>
<line x1="445.8" y1="279.8" x2="654.3" y2="279.8" stroke="#333" stroke-width="1"/>
<line x1="653.8" y1="239.7" x2="657.8" y2="239.7" stroke="#666" stroke-width="0.9"/>
<text x="658.9" y="242.7" font-size="10.4" fill="#000" text-anchor="start" font-weight="normal" stroke="#000" stroke-width="0.2">0</text>
<line x1="653.8" y1="203.3" x2="657.8" y2="203.3" stroke="#666" stroke-width="0.9"/>
<text x="658.9" y="206.3" font-size="10.4" fill="#000" text-anchor="start" font-weight="normal" stroke="#000" stroke-width="0.2">10</text>
<line x1="653.8" y1="166.9" x2="657.8" y2="166.9" stroke="#666" stroke-width="0.9"/>
<text x="658.9" y="169.9" font-size="10.4" fill="#000" text-anchor="start" font-weight="normal" stroke="#000" stroke-width="0.2">20</text>
<line x1="653.8" y1="130.5" x2="657.8" y2="130.5" stroke="#666" stroke-width="0.9"/>
<text x="658.9" y="133.5" font-size="10.4" fill="#000" text-anchor="start" font-weight="normal" stroke="#000" stroke-width="0.2">30</text>
<line x1="653.8" y1="94.1" x2="657.8" y2="94.1" stroke="#666" stroke-width="0.9"/>
<text x="658.9" y="97.1" font-size="10.4" fill="#000" text-anchor="start" font-weight="normal" stroke="#000" stroke-width="0.2">40</text>
<line x1="653.8" y1="57.7" x2="657.8" y2="57.7" stroke="#666" stroke-width="0.9"/>
<text x="658.9" y="60.7" font-size="10.4" fill="#000" text-anchor="start" font-weight="normal" stroke="#000" stroke-width="0.2">50</text>
<line x1="653.8" y1="21.3" x2="657.8" y2="21.3" stroke="#666" stroke-width="0.9"/>
<text x="658.9" y="24.3" font-size="10.4" fill="#000" text-anchor="start" font-weight="normal" stroke="#000" stroke-width="0.2">60</text>
<line x1="465.4" y1="276.8" x2="465.4" y2="279.8" stroke="#333" stroke-width="0.9"/>
<line x1="499.6" y1="276.8" x2="499.6" y2="279.8" stroke="#333" stroke-width="0.9"/>
<line x1="534.2" y1="276.8" x2="534.2" y2="279.8" stroke="#333" stroke-width="0.9"/>
<line x1="569" y1="276.8" x2="569" y2="279.8" stroke="#333" stroke-width="0.9"/>
<line x1="603.6" y1="276.8" x2="603.6" y2="279.8" stroke="#333" stroke-width="0.9"/>
<line x1="637.8" y1="276.8" x2="637.8" y2="279.8" stroke="#333" stroke-width="0.9"/>
<text transform="translate(470.2 274.2) rotate(-90)" x="0" y="0" font-size="12.2" fill="#0a0aef" text-anchor="start" textLength="49.3" lengthAdjust="spacingAndGlyphs">BSA-PEG</text>
<text transform="translate(504.3 274.2) rotate(-90)" x="0" y="0" font-size="12.2" fill="#1e8fee" text-anchor="start" textLength="45.2" lengthAdjust="spacingAndGlyphs">Gycinin</text>
<text transform="translate(539.4 274.2) rotate(-90)" x="0" y="0" font-size="12.2" fill="#3ceab0" text-anchor="start" textLength="27.2" lengthAdjust="spacingAndGlyphs">MBP</text>
<g transform="translate(574.2 274.2) rotate(-90)" fill="#a2e055" font-size="12"><text x="0" y="0" textLength="7.4" lengthAdjust="spacingAndGlyphs">R</text><text x="8.0" y="2.6" font-size="9" textLength="9.4" lengthAdjust="spacingAndGlyphs">10</text><text x="18.2" y="0" textLength="3.8" lengthAdjust="spacingAndGlyphs">-</text><text x="22.6" y="0" textLength="7.6" lengthAdjust="spacingAndGlyphs">D</text><text x="30.9" y="2.6" font-size="9" textLength="9.4" lengthAdjust="spacingAndGlyphs">10</text></g>
<g transform="translate(609.4 274.2) rotate(-90)" fill="#fbb61c" font-size="12"><text x="0" y="0" textLength="7.4" lengthAdjust="spacingAndGlyphs">K</text><text x="8.0" y="2.6" font-size="9" textLength="9.4" lengthAdjust="spacingAndGlyphs">10</text><text x="18.2" y="0" textLength="3.8" lengthAdjust="spacingAndGlyphs">-</text><text x="22.6" y="0" textLength="7.6" lengthAdjust="spacingAndGlyphs">D</text><text x="30.9" y="2.6" font-size="9" textLength="9.4" lengthAdjust="spacingAndGlyphs">10</text></g>
<text transform="translate(642.4 274.2) rotate(-90)" x="0" y="0" font-size="12.2" fill="#f83c1c" text-anchor="start" textLength="61.2" lengthAdjust="spacingAndGlyphs">ATP-PDDA</text>
<text transform="translate(684.1 191.7) rotate(-90)" font-size="10.2" fill="#111" stroke="#111" stroke-width="0.2" textLength="91.8" lengthAdjust="spacingAndGlyphs">Dielectric constant/&#949;</text>
<text transform="translate(684.1 191.7) rotate(-90)" x="92.2" y="0.6" font-size="7.2" fill="#111">0</text>
<line x1="451" y1="218.4" x2="480" y2="218.4" stroke="#333" stroke-width="0.8"/>
<circle cx="452.4" cy="217.6" r="2.7" fill="#0404f4"/>
<circle cx="454.8" cy="217.9" r="2.7" fill="#0404f4"/>
<circle cx="460.1" cy="218.8" r="2.7" fill="#0404f4"/>
<circle cx="466.4" cy="219.2" r="2.7" fill="#0404f4"/>
<circle cx="472.1" cy="218.3" r="2.7" fill="#0404f4"/>
<circle cx="478.4" cy="217.7" r="2.7" fill="#0404f4"/>
<line x1="500.5" y1="207.4" x2="500.5" y2="222.3" stroke="#444" stroke-width="0.8"/>
<line x1="493.1" y1="207.4" x2="507.8" y2="207.4" stroke="#444" stroke-width="0.8"/>
<line x1="493.1" y1="222.3" x2="507.8" y2="222.3" stroke="#444" stroke-width="0.8"/>
<rect x="486.4" y="211.8" width="28.2" height="7.1" fill="#1e8fe0" stroke="#4a4a4a" stroke-width="0.9"/>
<line x1="486.4" y1="214.9" x2="514.6" y2="214.9" stroke="#333" stroke-width="0.8"/>
<circle cx="500.6" cy="195.7" r="2.6" fill="#0a99fb"/>
<circle cx="500.6" cy="207.4" r="2.6" fill="#0a99fb"/>
<circle cx="505.9" cy="212.8" r="2.6" fill="#0a99fb"/>
<circle cx="495.4" cy="219.2" r="2.6" fill="#0a99fb"/>
<circle cx="500.6" cy="222.3" r="2.6" fill="#0a99fb"/>
<circle cx="505.3" cy="218.5" r="2.6" fill="#0a99fb"/>
<circle cx="510.6" cy="218" r="2.6" fill="#0a99fb"/>
<circle cx="500.6" cy="215.6" r="2.6" fill="#0a99fb"/>
<line x1="534.8" y1="138.1" x2="534.8" y2="152.2" stroke="#444" stroke-width="0.8"/>
<line x1="527.5" y1="138.1" x2="541.8" y2="138.1" stroke="#444" stroke-width="0.8"/>
<line x1="527.5" y1="152.2" x2="541.8" y2="152.2" stroke="#444" stroke-width="0.8"/>
<rect x="521.2" y="142.2" width="27.2" height="6.5" fill="#3fe0a2" stroke="#4a4a4a" stroke-width="0.9"/>
<line x1="521.2" y1="145.0" x2="548.4" y2="145.0" stroke="#555" stroke-width="0.6"/>
<line x1="521.2" y1="147.0" x2="548.4" y2="147.0" stroke="#555" stroke-width="0.6"/>
<circle cx="534.7" cy="138.1" r="2.6" fill="#3df0b0"/>
<circle cx="534.7" cy="152.2" r="2.6" fill="#3df0b0"/>
<circle cx="538.4" cy="144.3" r="2.6" fill="#3df0b0"/>
<circle cx="533.1" cy="146.8" r="2.6" fill="#3df0b0"/>
<rect x="555.1" y="88.9" width="27.7" height="3.7" fill="#4a4a4a" stroke="#444" stroke-width="0.6"/>
<line x1="555.6" y1="90.8" x2="582.3" y2="90.8" stroke="#9cd84a" stroke-width="0.9"/>
<circle cx="558.9" cy="87.8" r="2.6" fill="#adf030"/>
<circle cx="563.1" cy="91.8" r="2.6" fill="#adf030"/>
<circle cx="569" cy="92.6" r="2.6" fill="#adf030"/>
<circle cx="574.3" cy="90.1" r="2.6" fill="#adf030"/>
<rect x="589.0" y="23.6" width="30" height="2.0" fill="#4a4a4a"/>
<circle cx="592.4" cy="24.6" r="2.5" fill="#fdb40a"/>
<circle cx="598.5" cy="25.5" r="2.5" fill="#fdb40a"/>
<circle cx="603" cy="28.5" r="2.5" fill="#fdb40a"/>
<circle cx="607.5" cy="25" r="2.5" fill="#fdb40a"/>
<circle cx="612.8" cy="25" r="2.5" fill="#fdb40a"/>
<circle cx="617" cy="23.2" r="2.5" fill="#fdb40a"/>
<circle cx="618.5" cy="22.6" r="2.5" fill="#fdb40a"/>
<path d="M603.5 20.6 L605 23.6 L602 23.6 Z" fill="#444"/>
<rect x="630.5" y="16.2" width="13.8" height="7.5" fill="#a8a8a8" stroke="#909090" stroke-width="0.8"/>
<rect x="623.3" y="18.3" width="28.5" height="3.8" fill="#6e4a44" stroke="#666" stroke-width="0.8"/>
<line x1="623.8" y1="20.2" x2="651.3" y2="20.2" stroke="#e0402a" stroke-width="0.9"/>
<circle cx="637.4" cy="16.7" r="2.6" fill="#fc3410"/>
<circle cx="632.6" cy="20.1" r="2.6" fill="#fc3410"/>
<circle cx="637.4" cy="24" r="2.6" fill="#fc3410"/>
</svg>
</body></html>
